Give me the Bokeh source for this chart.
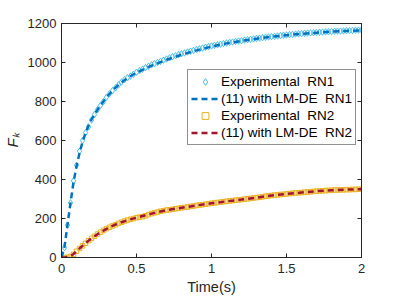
from bokeh.plotting import figure
from bokeh.models import LinearAxis, Range1d, Legend, LegendItem, FixedTicker
from bokeh.embed import file_html
from bokeh.resources import INLINE

# Experimental sampling times (s)
time_exp = [0.00, 0.02, 0.04, 0.06, 0.08, 0.10, 0.12, 0.14, 0.16, 0.18,
            0.20, 0.22, 0.24, 0.26, 0.28, 0.30, 0.32, 0.34, 0.36, 0.38,
            0.40, 0.42, 0.44, 0.46, 0.48, 0.50, 0.52, 0.54, 0.56, 0.58,
            0.60, 0.62, 0.64, 0.66, 0.68, 0.70, 0.72, 0.74, 0.76, 0.78,
            0.80, 0.82, 0.84, 0.86, 0.88, 0.90, 0.92, 0.94, 0.96, 0.98,
            1.00, 1.02, 1.04, 1.06, 1.08, 1.10, 1.12, 1.14, 1.16, 1.18,
            1.20, 1.22, 1.24, 1.26, 1.28, 1.30, 1.32, 1.34, 1.36, 1.38,
            1.40, 1.42, 1.44, 1.46, 1.48, 1.50, 1.52, 1.54, 1.56, 1.58,
            1.60, 1.62, 1.64, 1.66, 1.68, 1.70, 1.72, 1.74, 1.76, 1.78,
            1.80, 1.82, 1.84, 1.86, 1.88, 1.90, 1.92, 1.94, 1.96, 1.98,
            2.00]

exp_rn1 = [0, 51, 166, 280, 393, 473, 545, 600, 640, 670,
           705, 733, 758, 780, 800, 822, 840, 856, 870, 885,
           900, 912, 922, 930, 940, 950, 958, 966, 974, 981,
           988, 995, 1000, 1006, 1012, 1018, 1024, 1030, 1035, 1040,
           1045, 1049, 1054, 1058, 1062, 1066, 1070, 1074, 1078, 1081,
           1085, 1088, 1091, 1094, 1097, 1100, 1103, 1105, 1108, 1110,
           1112, 1115, 1117, 1119, 1121, 1123, 1125, 1127, 1129, 1131,
           1133, 1134, 1136, 1138, 1140, 1141, 1143, 1144, 1146, 1147,
           1148, 1150, 1151, 1152, 1153, 1154, 1155, 1156, 1157, 1158,
           1159, 1160, 1161, 1161, 1162, 1163, 1164, 1164, 1165, 1166,
           1167]

exp_rn2 = [0, 0, 1, 5, 16, 32, 46, 60, 73, 86,
           98, 109, 120, 130, 139, 148, 155, 162, 168, 175,
           181, 187, 192, 196, 200, 204, 207, 209, 214, 220,
           225, 229, 233, 237, 240, 243, 245, 247, 250, 252,
           255, 257, 259, 262, 264, 267, 269, 271, 273, 276,
           278, 280, 282, 284, 286, 288, 290, 292, 294, 295,
           297, 299, 301, 303, 305, 307, 309, 311, 314, 316,
           318, 320, 321, 323, 324, 326, 328, 329, 331, 332,
           333, 335, 336, 337, 339, 340, 341, 342, 343, 344,
           345, 346, 346, 347, 347, 348, 348, 349, 349, 350,
           350]

# Model (11) with LM-DE
time_fit = [0, 0.02, 0.04, 0.06, 0.08, 0.10, 0.12, 0.14, 0.16, 0.18, 0.20,
            0.25, 0.30, 0.35, 0.40, 0.45, 0.50, 0.60, 0.70, 0.80, 0.90, 1.0,
            1.1, 1.2, 1.3, 1.4, 1.5, 1.6, 1.7, 1.8, 1.9, 2.0]
fit_rn1 = [0, 55, 168, 280, 385, 468, 535, 592, 638, 676, 708,
           770, 822, 864, 898, 926, 948, 984, 1014, 1040, 1062, 1082,
           1098, 1111, 1122, 1132, 1140, 1147, 1153, 1158, 1162, 1165]
fit_rn2 = [0, 0, 2, 7, 18, 32, 46, 60, 73, 86, 98,
           124, 147, 166, 181, 194, 204, 225, 243, 255, 267, 278,
           288, 297, 307, 318, 326, 333, 340, 345, 348, 350]

x_ticks = [0, 0.5, 1, 1.5, 2]
y_ticks = [0, 200, 400, 600, 800, 1000, 1200]

AX = "#262626"
FONT = "Liberation Sans"

p = figure(width=392, height=298, output_backend="svg", toolbar_location=None,
           x_range=Range1d(0, 2), y_range=Range1d(0, 1200),
           min_border_left=61, min_border_right=31, min_border_top=23,
           min_border_bottom=41)
p.background_fill_color = "white"
p.border_fill_color = "white"
p.outline_line_color = AX
p.outline_line_width = 1
p.grid.visible = False

def style_axis(ax, ticks, labels=True):
    ax.ticker = FixedTicker(ticks=ticks)
    ax.axis_line_color = AX
    ax.major_tick_line_color = AX
    ax.major_tick_in = 4
    ax.major_tick_out = 0
    ax.minor_tick_line_color = None
    ax.major_label_text_font = FONT
    ax.major_label_text_font_size = "13px"
    ax.major_label_text_color = AX
    if not labels:
        ax.major_label_overrides = {t: "" for t in ticks}
        ax.major_label_standoff = 0

style_axis(p.xaxis[0], x_ticks)
style_axis(p.yaxis[0], y_ticks)
p.xaxis.major_label_standoff = 6
p.yaxis.major_label_standoff = 5
p.xaxis.axis_label = "Time(s)"
p.yaxis.axis_label = "Fₖ"
p.xaxis.axis_label_text_font = FONT
p.yaxis.axis_label_text_font = FONT
p.xaxis.axis_label_text_font_size = "14.5px"
p.yaxis.axis_label_text_font_size = "15px"
p.xaxis.axis_label_text_font_style = "normal"
p.yaxis.axis_label_text_font_style = "italic"
p.xaxis.axis_label_text_color = AX
p.yaxis.axis_label_text_color = AX
p.xaxis.axis_label_standoff = 3
p.yaxis.axis_label_standoff = 4

top = LinearAxis()
right = LinearAxis()
style_axis(top, x_ticks, labels=False)
style_axis(right, y_ticks, labels=False)
p.add_layout(top, "above")
p.add_layout(right, "right")

c_exp1 = "#4DBEEE"
c_fit1 = "#0072BD"
c_exp2 = "#EDB120"
c_fit2 = "#A2142F"

r1 = p.scatter(time_exp, exp_rn1, marker="diamond", size=6.5, fill_color=None,
               line_color=c_exp1, line_width=1)
r3 = p.scatter(time_exp, exp_rn2, marker="square", size=4.5, fill_color=None,
               line_color=c_exp2, line_width=1)
r2 = p.line(time_fit, fit_rn1, line_color=c_fit1, line_width=2.5, line_dash="6 4")
r4 = p.line(time_fit, fit_rn2, line_color=c_fit2, line_width=2.5, line_dash="6 4")

legend = Legend(items=[
    LegendItem(label="Experimental  RN1", renderers=[r1]),
    LegendItem(label="(11) with LM-DE  RN1", renderers=[r2]),
    LegendItem(label="Experimental  RN2", renderers=[r3]),
    LegendItem(label="(11) with LM-DE  RN2", renderers=[r4]),
], location=(126, 112))
legend.label_text_font = FONT
legend.label_text_font_size = "13.5px"
legend.label_text_color = "black"
legend.glyph_width = 28
legend.glyph_height = 17
legend.label_height = 17
legend.label_standoff = 2
legend.spacing = 0
legend.padding = 3
legend.margin = 0
legend.border_line_color = AX
legend.border_line_width = 1
legend.background_fill_color = "white"
legend.background_fill_alpha = 1
p.add_layout(legend, "center")

open("out.html", "w").write(file_html(p, INLINE))
